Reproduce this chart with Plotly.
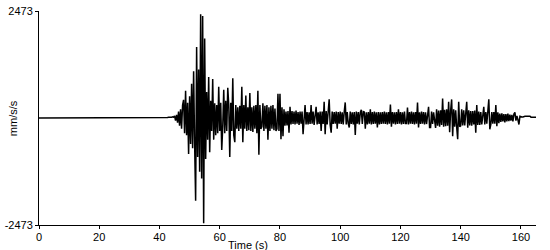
import plotly.graph_objects as go

# Pre-event record (0 s .. 41.5 s, step 0.5 s), mm/s/s
pre_t0 = 0.0
pre_dt = 0.5
pre_values = [
    0, 0, 0, 0, 0, 0, 0, 0, 0, 0,
    12, 10, 12, 11, 12, 10, 12, 11, 12, 10,
    12, 11, 12, 10, 12, 11, 12, 10, 12, 11,
    12, 10, 12, 11, 12, 10, 12, 11, 12, 10,
    12, 11, 12, 10, 12, 11, 12, 10, 12, 11,
    12, 10, 12, 11, 12, 10, 12, 11, 12, 10,
    12, 11, 12, 10, 12, 11, 12, 10, 12, 11,
    12, 10, 12, 11,
]

# Main record (42 s .. 165 s, step 1/3 s), mm/s/s
main_t0 = 42.0
main_dt = 1.0 / 3.0
main_values = [
    10, 15, 12,          # 42
    18, 15, 20,          # 43
    15, 25, 18,          # 44
    50, -60, 70,         # 45
    -110, 150, -180,     # 46
    200, -250, 300,      # 47
    420, -350, 630,      # 48
    -400, 350, -830,     # 49
    500, -600, 790,      # 50
    -700, 1080, -600,    # 51
    -1910, 1640, -900,   # 52
    1120, -1240, 2400,   # 53
    -1400, 2360, -2430,  # 54
    1840, -950, 600,     # 55
    -500, 950, -790,     # 56
    400, -300, 900,      # 57
    -500, 340, -400,     # 58
    300, -350, 720,      # 59
    -300, 350, -740,     # 60
    -200, 650, -350,     # 61
    400, -300, 700,      # 62
    300, -900, 350,      # 63
    -300, 920, -400,     # 64
    -560, 300, -250,     # 65
    250, -300, 280,      # 66
    -250, 720, -560,     # 67
    300, -250, 520,      # 68
    -300, 250, -280,     # 69
    580, -300, 250,      # 70
    -320, 280, -250,     # 71
    300, -350, 630,      # 72
    -850, 300, -250,     # 73
    -200, 340, -300,     # 74
    280, -250, 300,      # 75
    -500, 250, -300,     # 76
    280, -250, 300,      # 77
    -280, 220, -300,     # 78
    -250, 560, -300,     # 79
    560, -490, 250,      # 80
    -420, 200, -180,     # 81
    150, -170, 160,      # 82
    -340, 260, -150,     # 83
    160, -140, 150,      # 84
    -150, 170, -130,     # 85
    140, -160, 150,      # 86
    -130, 150, -375,     # 87
    -120, 300, -150,     # 88
    140, -150, 130,      # 89
    -140, 300, -130,     # 90
    150, -160, 140,      # 91
    260, -150, 130,      # 92
    -140, 150, -300,     # 93
    150, -140, 375,      # 94
    -375, 160, -150,     # 95
    150, 430, -160,      # 96
    -340, 150, -140,     # 97
    140, -130, 150,      # 98
    -250, 140, -130,     # 99
    150, -140, 130,      # 100
    -150, 140, 360,      # 101
    -150, 140, -130,     # 102
    -220, 150, -140,     # 103
    130, -150, 140,      # 104
    -390, 150, -130,     # 105
    140, -150, 130,      # 106
    190, -140, 150,      # 107
    140, -250, 130,      # 108
    -150, 140, -130,     # 109
    200, -150, 140,      # 110
    -140, 150, -130,     # 111
    130, -220, 140,      # 112
    -150, 130, -140,     # 113
    140, -130, 150,      # 114
    -140, 130, -150,     # 115
    140, -130, 310,      # 116
    -200, 140, -130,     # 117
    130, -150, 140,      # 118
    -140, 200, -130,     # 119
    140, -150, 130,      # 120
    -140, 150, -130,     # 121
    -130, 240, -150,     # 122
    140, -130, 150,      # 123
    -140, 130, -150,     # 124
    140, -130, 360,      # 125
    -220, 130, -140,     # 126
    150, -130, 140,      # 127
    -150, 130, -140,     # 128
    140, 260, -220,      # 129
    -220, 150, -140,     # 130
    130, -140, -230,     # 131
    200, -180, 170,      # 132
    -200, 180, -160,     # 133
    450, -200, 190,      # 134
    -190, 200, -180,     # 135
    375, -330, 180,      # 136
    430, -420, 200,      # 137
    -200, 180, -210,     # 138
    -490, 375, -200,     # 139
    -180, 200, -170,     # 140
    180, -170, 160,      # 141
    375, -225, 180,      # 142
    -170, 160, -180,     # 143
    160, -150, 170,      # 144
    -340, 300, -160,     # 145
    150, -160, 140,      # 146
    -150, 140, 260,      # 147
    -150, 140, -130,     # 148
    150, 430, -260,      # 149
    -150, 140, -130,     # 150
    140, -130, 300,      # 151
    -190, 130, -120,     # 152
    100, -90, 110,       # 153
    -80, 90, -100,       # 154
    90, -80, 100,        # 155
    -70, 80, -60,        # 156
    70, -80, 90,         # 157
    130, -60, 50,        # 158
    -40, -150, 40,       # 159
    25, 25, 25,          # 160
    40, 40, 40,          # 161
    40, 40, 40,          # 162
    40, 20, 20,          # 163
    20, 20, 20,          # 164
    20,                  # 165
]

x_ticks = [0, 20, 40, 60, 80, 100, 120, 140, 160]
y_ticks = [-2473, 2473]
y_tick_labels = ["-2473", "2473"]
x_max = 165
y_lim = 2473

pre_time = [pre_t0 + i * pre_dt for i in range(len(pre_values))]
main_time = [main_t0 + i * main_dt for i in range(len(main_values))]
time = pre_time + main_time
values = pre_values + main_values

fig = go.Figure()
fig.add_trace(go.Scatter(
    x=time, y=values, mode="lines",
    line=dict(color="black", width=1.5),
    hoverinfo="skip", showlegend=False,
))

font = dict(family="Liberation Sans, Arial, sans-serif", size=11, color="black")

fig.update_layout(
    width=550, height=250,
    margin=dict(l=36, r=14, t=5, b=25),
    paper_bgcolor="white", plot_bgcolor="white",
    font=font,
    xaxis=dict(
        range=[0, x_max], tickvals=x_ticks, ticks="outside", ticklen=3,
        tickcolor="black", showline=True, linecolor="black", linewidth=1,
        showgrid=False, zeroline=False, mirror=False, fixedrange=True,
        tickfont=font, ticklabelstandoff=-1,
    ),
    yaxis=dict(
        range=[-y_lim, y_lim], tickvals=y_ticks, ticktext=y_tick_labels,
        ticks="outside", ticklen=3, tickcolor="black",
        showline=True, linecolor="black", linewidth=1,
        showgrid=False, zeroline=False, fixedrange=True, tickfont=font,
        ticklabeloverflow="allow",
    ),
    annotations=[
        dict(text="Time (s)", xref="paper", yref="paper", x=0.421, y=-0.095,
             xanchor="center", yanchor="middle", showarrow=False, font=font),
        dict(text="mm/s/s", xref="paper", yref="paper", x=-0.052, y=0.5,
             xanchor="center", yanchor="middle", textangle=-90,
             showarrow=False, font=font),
    ],
)

fig.write_html("out.html")
